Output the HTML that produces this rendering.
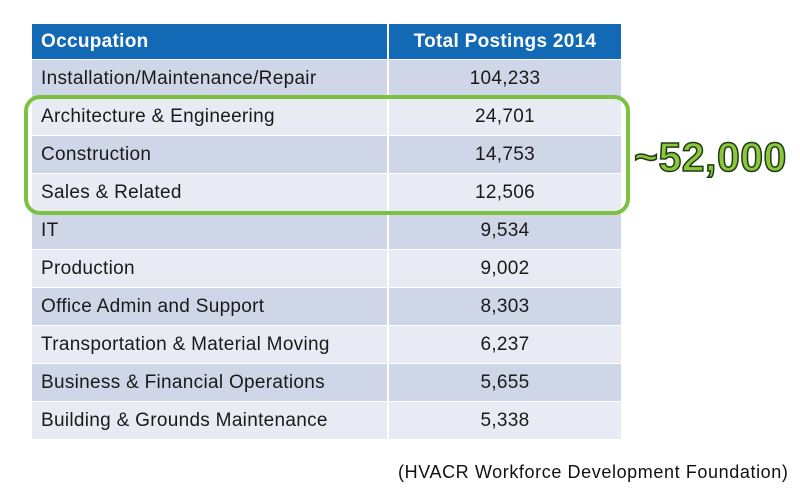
<!DOCTYPE html>
<html><head><meta charset="utf-8"><style>
body{margin:0;width:800px;height:500px;background:#fff;position:relative;overflow:hidden;font-family:"Liberation Sans",sans-serif}
table{position:absolute;left:32px;top:24px;border-collapse:collapse;width:589px}
td,th{height:37px;padding:0 0 0 9px;font-size:19px;color:#1a1a1a;border-bottom:1px solid #fff;white-space:nowrap;letter-spacing:0.3px}
th{background:#1269b5;color:#fff;text-align:left;font-weight:bold;height:35px;font-size:19px}
td.n,th.n{text-align:center;padding:0;border-left:2px solid #fff;width:232px}
tr.d td{background:#cfd6e7}
tr.l td{background:#e8ebf3}
#box{position:absolute;left:24px;top:95px;width:598px;height:112px;border:4px solid #7cc142;border-radius:16px}
#approx{position:absolute;left:634px;top:134px;font-size:41px;font-weight:bold;color:#8cc63f;-webkit-text-stroke:1.5px #1d3a10;letter-spacing:0.5px}
#src{position:absolute;left:398px;top:462px;font-size:18px;color:#111;letter-spacing:0.6px}
</style></head><body>
<table>
<tr><th>Occupation</th><th class="n">Total Postings 2014</th></tr>
<tr class="d"><td>Installation/Maintenance/Repair</td><td class="n">104,233</td></tr>
<tr class="l"><td>Architecture &amp; Engineering</td><td class="n">24,701</td></tr>
<tr class="d"><td>Construction</td><td class="n">14,753</td></tr>
<tr class="l"><td>Sales &amp; Related</td><td class="n">12,506</td></tr>
<tr class="d"><td>IT</td><td class="n">9,534</td></tr>
<tr class="l"><td>Production</td><td class="n">9,002</td></tr>
<tr class="d"><td>Office Admin and Support</td><td class="n">8,303</td></tr>
<tr class="l"><td>Transportation &amp; Material Moving</td><td class="n">6,237</td></tr>
<tr class="d"><td>Business &amp; Financial Operations</td><td class="n">5,655</td></tr>
<tr class="l"><td>Building &amp; Grounds Maintenance</td><td class="n">5,338</td></tr>
</table>
<div id="box"></div>
<div id="approx">~52,000</div>
<div id="src">(HVACR Workforce Development Foundation)</div>
</body></html>
